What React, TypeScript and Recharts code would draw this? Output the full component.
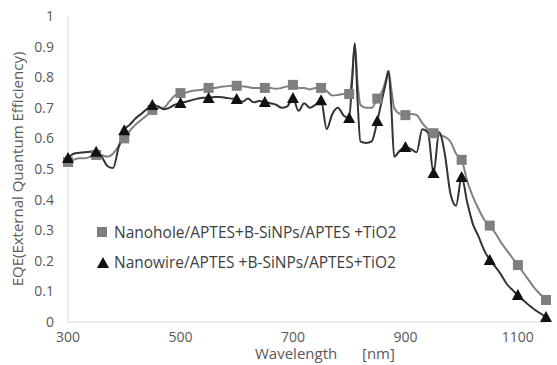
import { LineChart, Line, XAxis, YAxis, Legend } from 'recharts'

// wavelength grid (nm); markers are drawn every 50 nm as in the source plot
const wavelengths = [
  300, 310, 320, 330, 340, 350, 360, 370, 380, 390,
  400, 410, 420, 430, 440, 450, 460, 470, 480, 490,
  500, 510, 520, 530, 540, 550, 560, 570, 580, 590,
  600, 610, 620, 630, 640, 650, 660, 670, 680, 690,
  700, 710, 720, 730, 740, 750, 760, 770, 780, 790,
  800, 805, 810, 815, 820, 830, 840, 850, 860, 865,
  870, 875, 880, 890, 900, 910, 920, 930, 940, 950,
  960, 970, 980, 990, 1000, 1010, 1020, 1030, 1040, 1050,
  1060, 1070, 1080, 1090, 1100, 1110, 1120, 1130, 1140, 1150,
]

const nanoholeEqe = [
  0.523, 0.53, 0.535, 0.535, 0.54, 0.546, 0.545, 0.54, 0.55, 0.575,
  0.6, 0.625, 0.645, 0.66, 0.675, 0.693, 0.7, 0.7, 0.72, 0.74,
  0.748, 0.75, 0.755, 0.757, 0.76, 0.765, 0.765, 0.768, 0.77, 0.772,
  0.772, 0.77, 0.768, 0.765, 0.765, 0.765, 0.765, 0.762, 0.765, 0.77,
  0.775, 0.765, 0.765, 0.76, 0.765, 0.765, 0.755, 0.74, 0.742, 0.745,
  0.745, 0.8, 0.91, 0.78, 0.71, 0.7, 0.7, 0.73, 0.76, 0.79,
  0.82, 0.76, 0.7, 0.68, 0.676, 0.68, 0.676, 0.65, 0.63, 0.617,
  0.61, 0.605, 0.59, 0.55, 0.53, 0.46, 0.41, 0.37, 0.335, 0.315,
  0.29, 0.26, 0.235, 0.21, 0.186, 0.16, 0.135, 0.11, 0.09, 0.072,
]

const nanowireEqe = [
  0.536, 0.55, 0.553, 0.555, 0.556, 0.556, 0.54, 0.51, 0.503, 0.57,
  0.627, 0.645, 0.665, 0.68, 0.695, 0.709, 0.705, 0.695, 0.7, 0.71,
  0.716, 0.72, 0.725, 0.73, 0.733, 0.732, 0.735, 0.735, 0.733, 0.73,
  0.729, 0.72, 0.73, 0.718, 0.722, 0.719, 0.715, 0.71, 0.7, 0.705,
  0.732, 0.69, 0.715, 0.7, 0.71, 0.725, 0.63, 0.68, 0.7, 0.675,
  0.667, 0.78, 0.91, 0.72, 0.59, 0.585, 0.59, 0.657, 0.74, 0.78,
  0.82, 0.7, 0.54, 0.56, 0.572, 0.565, 0.555, 0.63, 0.62, 0.487,
  0.62, 0.55, 0.42, 0.38, 0.474, 0.39, 0.32, 0.28, 0.235, 0.203,
  0.18, 0.155, 0.125, 0.105, 0.088, 0.07, 0.055, 0.04, 0.028, 0.016,
]

const seriesNames = [
  'Nanohole/APTES+B-SiNPs/APTES +TiO2',
  'Nanowire/APTES +B-SiNPs/APTES+TiO2',
]

const xTicks = [300, 500, 700, 900, 1100]
const yTicks = [0, 0.1, 0.2, 0.3, 0.4, 0.5, 0.6, 0.7, 0.8, 0.9, 1]

const data = wavelengths.map((wl, i) => ({
  wl,
  hole: nanoholeEqe[i],
  wire: nanowireEqe[i],
}))

const FONT = '"Open Sans", "Liberation Sans", sans-serif'
const GREY = '#7f7f7f'
const DARK = '#111'

const SquareDot = (props: any) => {
  const { cx, cy, payload } = props
  if (payload.wl % 50 !== 0) return <g key={`s-${payload.wl}`} />
  return <rect key={`s-${payload.wl}`} x={cx - 5} y={cy - 5} width={10} height={10} fill={GREY} />
}

const TriangleDot = (props: any) => {
  const { cx, cy, payload } = props
  if (payload.wl % 50 !== 0) return <g key={`t-${payload.wl}`} />
  return (
    <polygon
      key={`t-${payload.wl}`}
      points={`${cx},${cy - 6} ${cx + 6},${cy + 5} ${cx - 6},${cy + 5}`}
      fill={DARK}
    />
  )
}

const LegendBox = () => (
  <div style={{ fontFamily: FONT, fontSize: 15.5, color: '#404040', lineHeight: '30px', whiteSpace: 'nowrap' }}>
    <div style={{ display: 'flex', alignItems: 'center' }}>
      <svg width={10} height={10} style={{ marginRight: 7 }}>
        <rect x={0} y={0} width={10} height={10} fill={GREY} />
      </svg>
      {seriesNames[0]}
    </div>
    <div style={{ display: 'flex', alignItems: 'center' }}>
      <svg width={12} height={11} style={{ marginRight: 5 }}>
        <polygon points="6,0 12,11 0,11" fill={DARK} />
      </svg>
      {seriesNames[1]}
    </div>
  </div>
)

const XLabel = (props: any) => {
  const { viewBox } = props
  const y = viewBox.y + 37
  return (
    <g fontFamily={FONT} fontSize={15} fill="#595959">
      <text x={255} y={y}>Wavelength</text>
      <text x={362} y={y}>[nm]</text>
    </g>
  )
}

const YLabel = (props: any) => {
  const { viewBox } = props
  const cy = viewBox.y + viewBox.height / 2
  return (
    <text
      x={17}
      y={cy}
      transform={`rotate(-90, 17, ${cy})`}
      textAnchor="middle"
      dominantBaseline="central"
      fontFamily={FONT}
      fontSize={15}
      fill="#595959"
    >
      EQE(External Quantum Efficiency)
    </text>
  )
}

export default function App() {
  return (
    <div style={{ position: 'absolute', left: 0, top: 0, width: 557, height: 365, background: '#fff' }}>
      <LineChart
        width={557}
        height={365}
        data={data}
        margin={{ top: 16, right: 11, left: 0, bottom: 0 }}
      >
        <XAxis
          dataKey="wl"
          type="number"
          domain={[300, 1150]}
          ticks={xTicks}
          tickLine={false}
          tickSize={0}
          tickMargin={10}
          height={43}
          stroke="#d9d9d9"
          tick={{ fill: '#595959', fontSize: 14, fontFamily: FONT }}
          label={<XLabel />}
        />
        <YAxis
          type="number"
          domain={[0, 1]}
          ticks={yTicks}
          tickLine={false}
          tickSize={0}
          tickMargin={14}
          width={68}
          stroke="#d9d9d9"
          tick={{ fill: '#595959', fontSize: 14, fontFamily: FONT }}
          label={<YLabel />}
        />
        <Legend
          layout="vertical"
          align="center"
          verticalAlign="middle"
          content={<LegendBox />}
          wrapperStyle={{ position: 'absolute', left: 97, top: 217, width: 360, height: 60 }}
        />
        <Line
          dataKey="hole"
          type="monotone"
          stroke="#808080"
          strokeWidth={2}
          dot={SquareDot}
          activeDot={false}
          isAnimationActive={false}
        />
        <Line
          dataKey="wire"
          type="monotone"
          stroke="#333"
          strokeWidth={2}
          dot={TriangleDot}
          activeDot={false}
          isAnimationActive={false}
        />
      </LineChart>
    </div>
  )
}
